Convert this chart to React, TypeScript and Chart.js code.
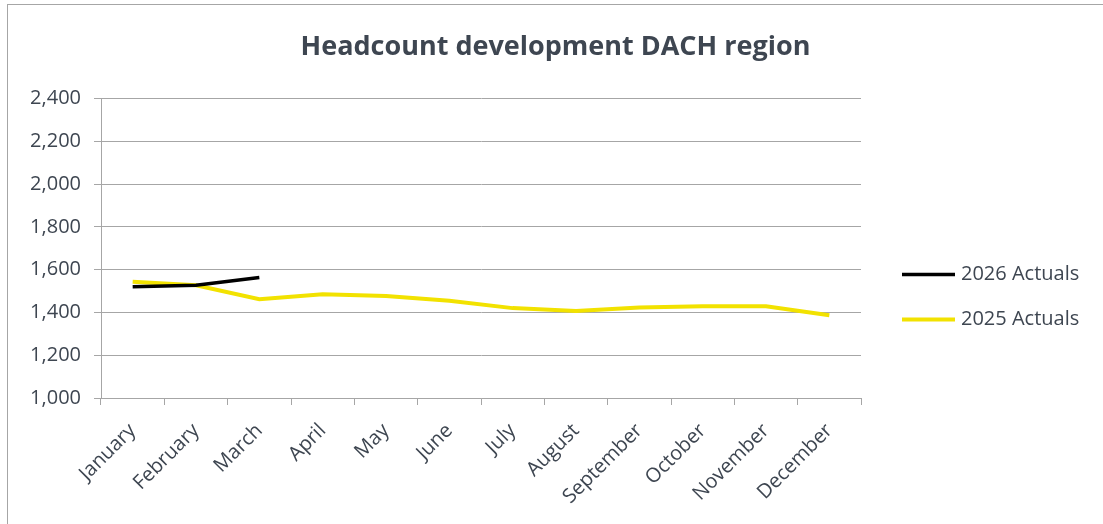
import React, { useEffect, useRef } from "react";
import { Chart, registerables } from "chart.js";

Chart.register(...registerables);

const months = [
  "January", "February", "March", "April", "May", "June",
  "July", "August", "September", "October", "November", "December",
];
const actuals2026 = [1520, 1527, 1563, null, null, null, null, null, null, null, null, null];
const actuals2025 = [1543, 1527, 1462, 1485, 1477, 1454, 1420, 1406, 1423, 1429, 1429, 1387];
const yMin = 1000;
const yMax = 2400;
const yStep = 200;
const titleText = "Headcount development DACH region";

const TEXT = "#3e4651";
const GRID = "#a6a6a6";
const FONT = "'Open Sans', sans-serif";

const lineLegend = {
  id: "lineLegend",
  afterDraw(chart: any) {
    const { ctx, chartArea } = chart;
    const x0 = chartArea.right + 41;
    const lineLen = 53;
    let y = chartArea.top + 176;
    ctx.save();
    ctx.font = `20px ${FONT}`;
    ctx.textBaseline = "middle";
    ctx.textAlign = "left";
    chart.data.datasets.forEach((ds: any) => {
      ctx.strokeStyle = ds.borderColor;
      ctx.lineWidth = ds.borderWidth;
      ctx.beginPath();
      ctx.moveTo(x0, y);
      ctx.lineTo(x0 + lineLen, y);
      ctx.stroke();
      ctx.fillStyle = TEXT;
      ctx.fillText(ds.label, x0 + lineLen + 6, y);
      y += 45;
    });
    ctx.restore();
  },
};

export default function App() {
  const ref = useRef<HTMLCanvasElement>(null);
  useEffect(() => {
    const chart = new Chart(ref.current!, {
      type: "line",
      data: {
        labels: months,
        datasets: [
          {
            label: "2026 Actuals",
            data: actuals2026,
            borderColor: "#000000",
            backgroundColor: "#000000",
            borderWidth: 3.5,
            pointRadius: 0,
            tension: 0,
          },
          {
            label: "2025 Actuals",
            data: actuals2025,
            borderColor: "#f2e200",
            backgroundColor: "#f2e200",
            borderWidth: 4,
            pointRadius: 0,
            tension: 0,
          },
        ],
      },
      options: {
        animation: false,
        responsive: false,
        maintainAspectRatio: false,
        layout: { padding: 0 },
        plugins: {
          legend: { display: false },
          tooltip: { enabled: false },
          title: {
            display: true,
            text: titleText,
            color: TEXT,
            font: { family: FONT, size: 27, weight: "bold", lineHeight: 1.2 },
            padding: { top: 26, bottom: 35 },
          },
        },
        scales: {
          x: {
            offset: true,
            grid: {
              offset: true,
              drawOnChartArea: false,
              drawTicks: true,
              tickLength: 7,
              color: GRID,
            },
            border: { display: true, color: GRID },
            ticks: {
              color: TEXT,
              font: { family: FONT, size: 20 },
              minRotation: 45,
              maxRotation: 45,
              autoSkip: false,
              padding: 14,
            },
            afterFit: (scale: any) => {
              scale.height = 126;
            },
          },
          y: {
            min: yMin,
            max: yMax,
            grid: { color: GRID, tickLength: 7, drawTicks: true },
            border: { display: true, color: GRID },
            ticks: {
              stepSize: yStep,
              color: TEXT,
              font: { family: FONT, size: 20 },
              padding: 13,
              callback: (v: any) => Number(v).toLocaleString("en-US"),
            },
            afterFit: (scale: any) => {
              scale.width = 93;
            },
          },
          legendSpace: {
            type: "linear",
            position: "right",
            display: true,
            grid: { display: false, drawTicks: false },
            border: { display: false },
            ticks: { display: false },
            afterFit: (scale: any) => {
              scale.width = 242;
            },
          },
        },
      },
      plugins: [lineLegend],
    });
    return () => chart.destroy();
  }, []);

  return (
    <div
      style={{
        position: "fixed",
        left: 7,
        top: 4,
        width: 1200,
        height: 600,
        border: "1px solid #a6a6a6",
        background: "#fff",
      }}
    >
      <canvas
        ref={ref}
        width={1095}
        height={519}
        style={{ position: "absolute", left: 0, top: 0, width: 1095, height: 519 }}
      />
    </div>
  );
}
